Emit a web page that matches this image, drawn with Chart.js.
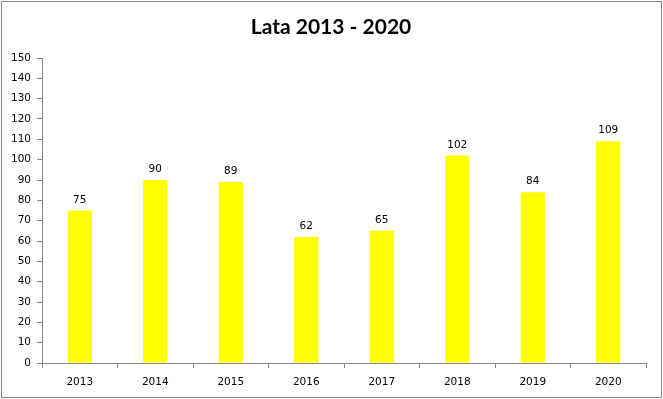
<!DOCTYPE html>
<html>
<head>
<meta charset="utf-8">
<script src="https://cdn.jsdelivr.net/npm/chart.js@4/dist/chart.umd.min.js"></script>
<style>
  html, body { margin: 0; padding: 0; background: #fff; }
  #wrap { width: 663px; height: 399px; position: relative; }
</style>
</head>
<body>
<div id="wrap"><canvas id="chart" width="663" height="399"></canvas></div>
<script>
var chartTitle = 'Lata 2013 - 2020';
var years = ['2013', '2014', '2015', '2016', '2017', '2018', '2019', '2020'];
var counts = [75, 90, 89, 62, 65, 102, 84, 109];
var yMin = 0, yMax = 150, yStep = 10;

var axisGray = '#868686';
var textColor = '#000000';
var tickFont = { family: 'DejaVu Sans', size: 10.5 };

// frame + title + value labels, drawn by hand
var extras = {
    id: 'extras',
    beforeDraw: function (chart) {
        var c = chart.ctx;
        c.save();
        c.fillStyle = '#fff';
        c.fillRect(0, 0, chart.width, chart.height);
        c.strokeStyle = axisGray;
        c.lineWidth = 1;
        c.strokeRect(1.5, 1.5, chart.width - 3, chart.height - 3);
        c.restore();
    },
    afterDraw: function (chart) {
        var c = chart.ctx;
        c.save();
        c.fillStyle = textColor;
        c.textAlign = 'center';
        c.textBaseline = 'alphabetic';
        c.font = 'bold 21px Lato';
        c.fillText(chartTitle, 331, 34);
        c.font = '10.5px "DejaVu Sans"';
        var meta = chart.getDatasetMeta(0);
        meta.data.forEach(function (bar, i) {
            c.fillText(String(counts[i]), bar.x, bar.y - 8);
        });
        c.restore();
    }
};

var ctx = document.getElementById('chart');
var myChart = new Chart(ctx, {
    type: 'bar',
    data: {
        labels: years,
        datasets: [{
            data: counts,
            backgroundColor: '#FFFF00',
            borderWidth: 0,
            barPercentage: 0.32,
            categoryPercentage: 1
        }]
    },
    options: {
        responsive: false,
        animation: false,
        devicePixelRatio: 1,
        layout: { padding: { left: 0, right: 17, top: 58, bottom: 0 } },
        plugins: {
            legend: { display: false },
            title: { display: false },
            tooltip: { enabled: false }
        },
        scales: {
            x: {
                grid: {
                    offset: true,
                    drawOnChartArea: false,
                    drawTicks: true,
                    tickLength: 5,
                    color: axisGray
                },
                border: { color: axisGray, width: 1 },
                ticks: { color: textColor, font: tickFont, padding: 8 },
                afterFit: function (s) { s.height = 36; }
            },
            y: {
                min: yMin,
                max: yMax,
                grid: {
                    drawOnChartArea: false,
                    drawTicks: true,
                    tickLength: 5,
                    color: axisGray
                },
                border: { color: axisGray, width: 1 },
                ticks: { stepSize: yStep, color: textColor, font: tickFont, padding: 6 },
                afterFit: function (s) { s.width = 42; }
            }
        }
    },
    plugins: [extras]
});
</script>
</body>
</html>
